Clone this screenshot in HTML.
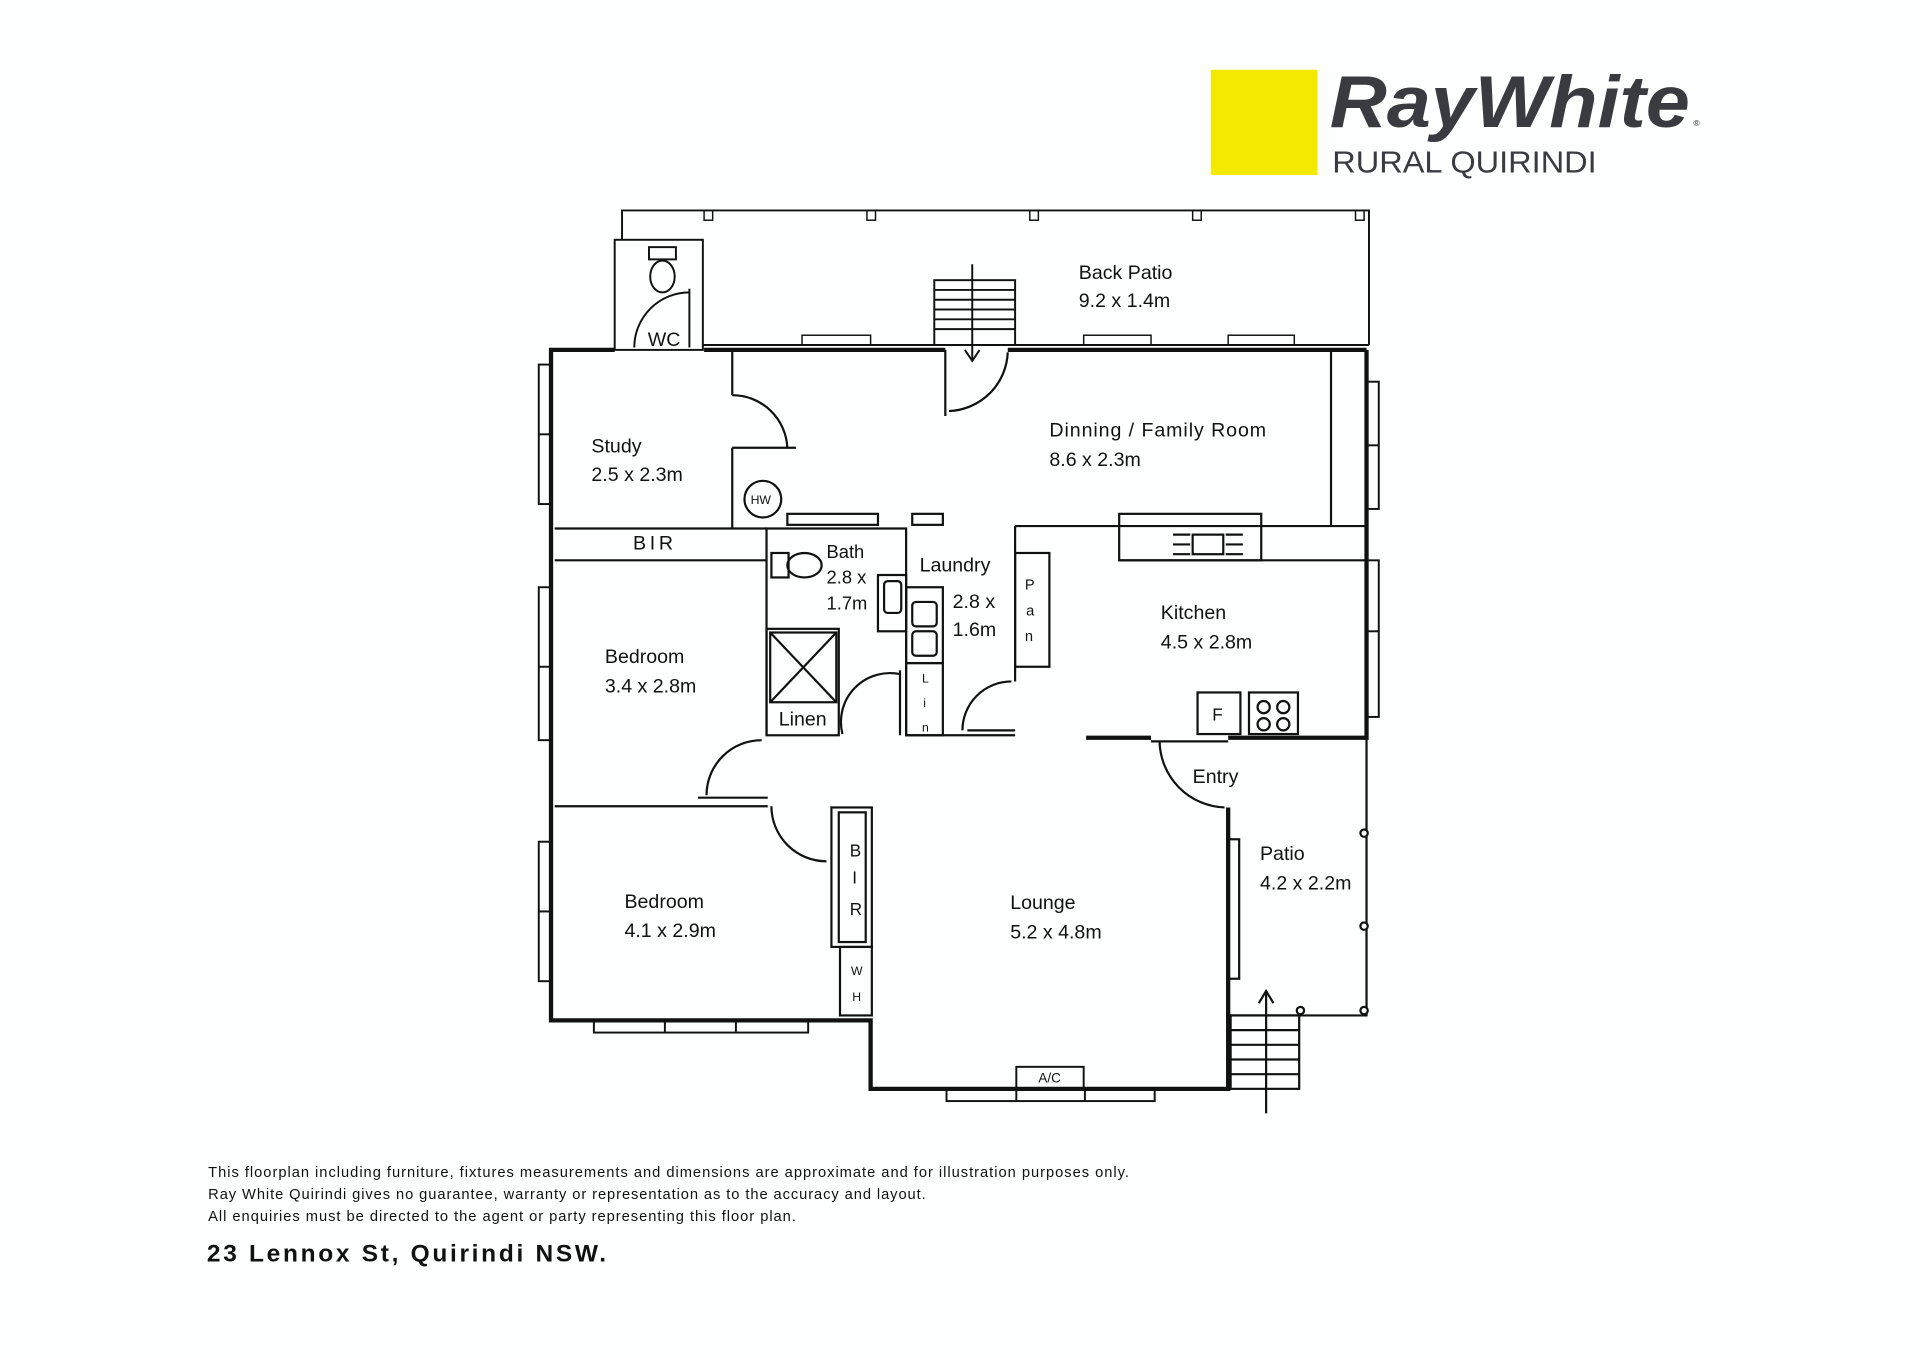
<!DOCTYPE html>
<html><head><meta charset="utf-8"><style>
html,body{margin:0;padding:0;background:#fdfefe;}
svg{display:block}
text{font-family:"Liberation Sans",sans-serif;fill:#111}
</style></head><body>
<svg width="1920" height="1358" viewBox="0 0 1568 1110" preserveAspectRatio="none" xmlns="http://www.w3.org/2000/svg">
<rect x="0" y="0" width="1568" height="1110" fill="#fdfefe"/>
<rect x="989" y="57" width="87" height="86" fill="#f4ea00"/>
<text x="1086" y="104" font-size="60" font-weight="bold" font-style="italic" style="fill:#3a3b40" textLength="294" lengthAdjust="spacingAndGlyphs">RayWhite</text>
<text x="1383" y="103" font-size="7" style="fill:#3a3b40">®</text>
<text x="1088" y="141" font-size="25" style="fill:#3a3b40" textLength="216" lengthAdjust="spacingAndGlyphs">RURAL QUIRINDI</text>
<g fill="none" stroke="#111" stroke-width="1.6">
<polyline points="508,196 508,172 1118,172 1118,282"/>
<line x1="574" y1="282" x2="1118" y2="282"/>
<rect x="502" y="196" width="72" height="90"/>
<g stroke-width="1.2">
<rect x="575" y="172" width="7" height="8"/><rect x="708" y="172" width="7" height="8"/><rect x="841" y="172" width="7" height="8"/><rect x="974" y="172" width="7" height="8"/><rect x="1107" y="172" width="7" height="8"/>
<rect x="655" y="274" width="56" height="8"/><rect x="885" y="274" width="55" height="8"/><rect x="1003" y="274" width="54" height="8"/>
</g>
<rect x="763" y="229" width="66" height="53"/>
<line x1="763" y1="237" x2="829" y2="237"/><line x1="763" y1="245" x2="829" y2="245"/><line x1="763" y1="253" x2="829" y2="253"/><line x1="763" y1="261" x2="829" y2="261"/><line x1="763" y1="269" x2="829" y2="269"/>
<line x1="794" y1="216" x2="794" y2="295"/><polyline points="788,286 794,295 800,286"/>
<rect x="530" y="202" width="22" height="10"/><ellipse cx="541" cy="226" rx="10" ry="13"/>
<path d="M518,284 A45,45 0 0 1 563,239"/><line x1="563" y1="236" x2="563" y2="284"/>
<rect x="440" y="298" width="10" height="114"/><rect x="440" y="480" width="10" height="125"/><rect x="440" y="688" width="10" height="114"/>
<line x1="440" y1="355" x2="450" y2="355"/><line x1="440" y1="545" x2="450" y2="545"/><line x1="440" y1="745" x2="450" y2="745"/>
<rect x="1116" y="312" width="10" height="104"/><rect x="1116" y="458" width="10" height="128"/>
<line x1="1116" y1="364" x2="1126" y2="364"/><line x1="1116" y1="516" x2="1126" y2="516"/>
<rect x="485" y="834" width="175" height="10"/><line x1="543" y1="834" x2="543" y2="844"/><line x1="601" y1="834" x2="601" y2="844"/>
<rect x="773" y="890" width="170" height="10"/><line x1="830" y1="890" x2="830" y2="900"/><line x1="886" y1="890" x2="886" y2="900"/>
<rect x="830" y="872" width="55" height="18"/>
</g>
<g fill="none" stroke="#111" stroke-width="3.5">
<polyline points="502,286 450,286 450,834 711,834 711,890 1003,890 1003,660"/>
<line x1="575" y1="286" x2="772" y2="286"/>
<line x1="823" y1="286" x2="1116" y2="286"/>
<polyline points="1116,286 1116,603 1003,603"/>
<line x1="887" y1="603" x2="940" y2="603"/>
</g>
<g fill="none" stroke="#111" stroke-width="1.8">
<line x1="772" y1="286" x2="772" y2="340"/><path d="M775,336 A50,50 0 0 0 823,288"/>
<line x1="1087" y1="286" x2="1087" y2="430"/>
<line x1="598" y1="286" x2="598" y2="323"/><path d="M598,323 A45,45 0 0 1 643,366"/><line x1="598" y1="366" x2="650" y2="366"/><line x1="598" y1="366" x2="598" y2="432"/>
<circle cx="623" cy="408" r="15"/>
<rect x="643" y="420" width="74" height="9"/><rect x="745" y="420" width="25" height="9"/>
<line x1="453" y1="432" x2="626" y2="432"/><line x1="453" y1="458" x2="626" y2="458"/>
<polyline points="626,601 626,432 740,432 740,601"/>
<rect x="630" y="452" width="14" height="20"/><ellipse cx="657" cy="462" rx="14" ry="10"/>
<rect x="717" y="470" width="23" height="46"/><rect x="722" y="475" width="14" height="26" rx="3"/>
<rect x="626" y="514" width="59" height="87"/><rect x="629" y="517" width="54" height="57"/><line x1="629" y1="517" x2="683" y2="574"/><line x1="683" y1="517" x2="629" y2="574"/>
<path d="M688,600 A40,40 0 0 1 735,551"/>
<line x1="735" y1="548" x2="735" y2="601"/>
<rect x="740" y="480" width="30" height="62"/><rect x="745" y="492" width="20" height="20" rx="3"/><rect x="745" y="516" width="20" height="20" rx="3"/>
<rect x="740" y="542" width="30" height="59"/>
<line x1="740" y1="601" x2="829" y2="601"/><line x1="790" y1="597" x2="829" y2="597"/>
<path d="M786,597 A40,40 0 0 1 826,557"/>
<line x1="829" y1="430" x2="829" y2="557"/>
<rect x="829" y="452" width="28" height="93"/>
<line x1="829" y1="430" x2="1116" y2="430"/><line x1="914" y1="458" x2="1116" y2="458"/>
<rect x="914" y="420" width="116" height="38"/><rect x="974" y="437" width="25" height="16"/>
<line x1="958" y1="437" x2="972" y2="437"/><line x1="958" y1="445" x2="972" y2="445"/><line x1="958" y1="453" x2="972" y2="453"/>
<line x1="1001" y1="437" x2="1015" y2="437"/><line x1="1001" y1="445" x2="1015" y2="445"/><line x1="1001" y1="453" x2="1015" y2="453"/>
<rect x="978" y="566" width="35" height="34"/><rect x="1020" y="566" width="40" height="34"/>
<circle cx="1032" cy="578" r="5"/><circle cx="1048" cy="578" r="5"/><circle cx="1032" cy="592" r="5"/><circle cx="1048" cy="592" r="5"/>
<path d="M947,606 A55,55 0 0 0 1000,660"/><line x1="940" y1="606" x2="1003" y2="606"/>
<line x1="453" y1="659" x2="627" y2="659"/><line x1="570" y1="652" x2="627" y2="652"/>
<path d="M577,650 A45,45 0 0 1 622,605"/>
<path d="M630,659 A45,45 0 0 0 675,704"/>
<rect x="679" y="660" width="33" height="114"/><rect x="685" y="664" width="22" height="106"/><rect x="686" y="774" width="26" height="56"/>
<rect x="1003" y="686" width="9" height="114"/>
<polyline points="1003,830 1116,830 1116,603"/>
<circle cx="1114" cy="681" r="3" fill="#fff"/><circle cx="1114" cy="757" r="3" fill="#fff"/><circle cx="1114" cy="826" r="3" fill="#fff"/><circle cx="1062" cy="826" r="3" fill="#fff"/>
<rect x="1005" y="830" width="56" height="60"/>
<line x1="1005" y1="842" x2="1061" y2="842"/><line x1="1005" y1="854" x2="1061" y2="854"/><line x1="1005" y1="866" x2="1061" y2="866"/><line x1="1005" y1="878" x2="1061" y2="878"/>
<line x1="1034" y1="810" x2="1034" y2="910"/><polyline points="1028,820 1034,810 1040,820"/>
</g>
<g font-size="16">
<text x="881" y="228">Back Patio</text><text x="881" y="251">9.2 x 1.4m</text>
<text x="529" y="283">WC</text>
<text x="483" y="370">Study</text><text x="483" y="393">2.5 x 2.3m</text>
<text x="857" y="357" textLength="177">Dinning / Family Room</text><text x="857" y="381">8.6 x 2.3m</text>
<text x="613" y="412" font-size="10">HW</text>
<text x="517" y="449" letter-spacing="3">BIR</text>
<text x="675" y="456" font-size="15">Bath</text><text x="675" y="477" font-size="15">2.8 x</text><text x="675" y="498" font-size="15">1.7m</text>
<text x="751" y="467">Laundry</text><text x="778" y="497">2.8 x</text><text x="778" y="520">1.6m</text>
<text x="837" y="482" font-size="12">P</text><text x="838" y="503" font-size="12">a</text><text x="837" y="524" font-size="12">n</text>
<text x="753" y="558" font-size="10">L</text><text x="754" y="578" font-size="10">i</text><text x="753" y="598" font-size="10">n</text>
<text x="948" y="506">Kitchen</text><text x="948" y="530">4.5 x 2.8m</text>
<text x="990" y="589" font-size="14">F</text>
<text x="494" y="542">Bedroom</text><text x="494" y="566">3.4 x 2.8m</text>
<text x="636" y="593">Linen</text>
<text x="974" y="640">Entry</text>
<text x="1029" y="703">Patio</text><text x="1029" y="727">4.2 x 2.2m</text>
<text x="510" y="742">Bedroom</text><text x="510" y="766">4.1 x 2.9m</text>
<text x="825" y="743">Lounge</text><text x="825" y="767">5.2 x 4.8m</text>
<text x="694" y="700" font-size="14">B</text><text x="696" y="722" font-size="14">I</text><text x="694" y="748" font-size="14">R</text>
<text x="695" y="797" font-size="10">W</text><text x="696" y="818" font-size="10">H</text>
<text x="848" y="885" font-size="11">A/C</text>
</g>
<g font-size="12">
<text x="170" y="962" textLength="752">This floorplan including furniture, fixtures measurements and dimensions are approximate and for illustration purposes only.</text>
<text x="170" y="980" textLength="586">Ray White Quirindi gives no guarantee, warranty or representation as to the accuracy and layout.</text>
<text x="170" y="998" textLength="480">All enquiries must be directed to the agent or party representing this floor plan.</text>
</g>
<text x="169" y="1031" font-size="20" font-weight="bold" textLength="326">23 Lennox St, Quirindi NSW.</text>
</svg>
</body></html>
